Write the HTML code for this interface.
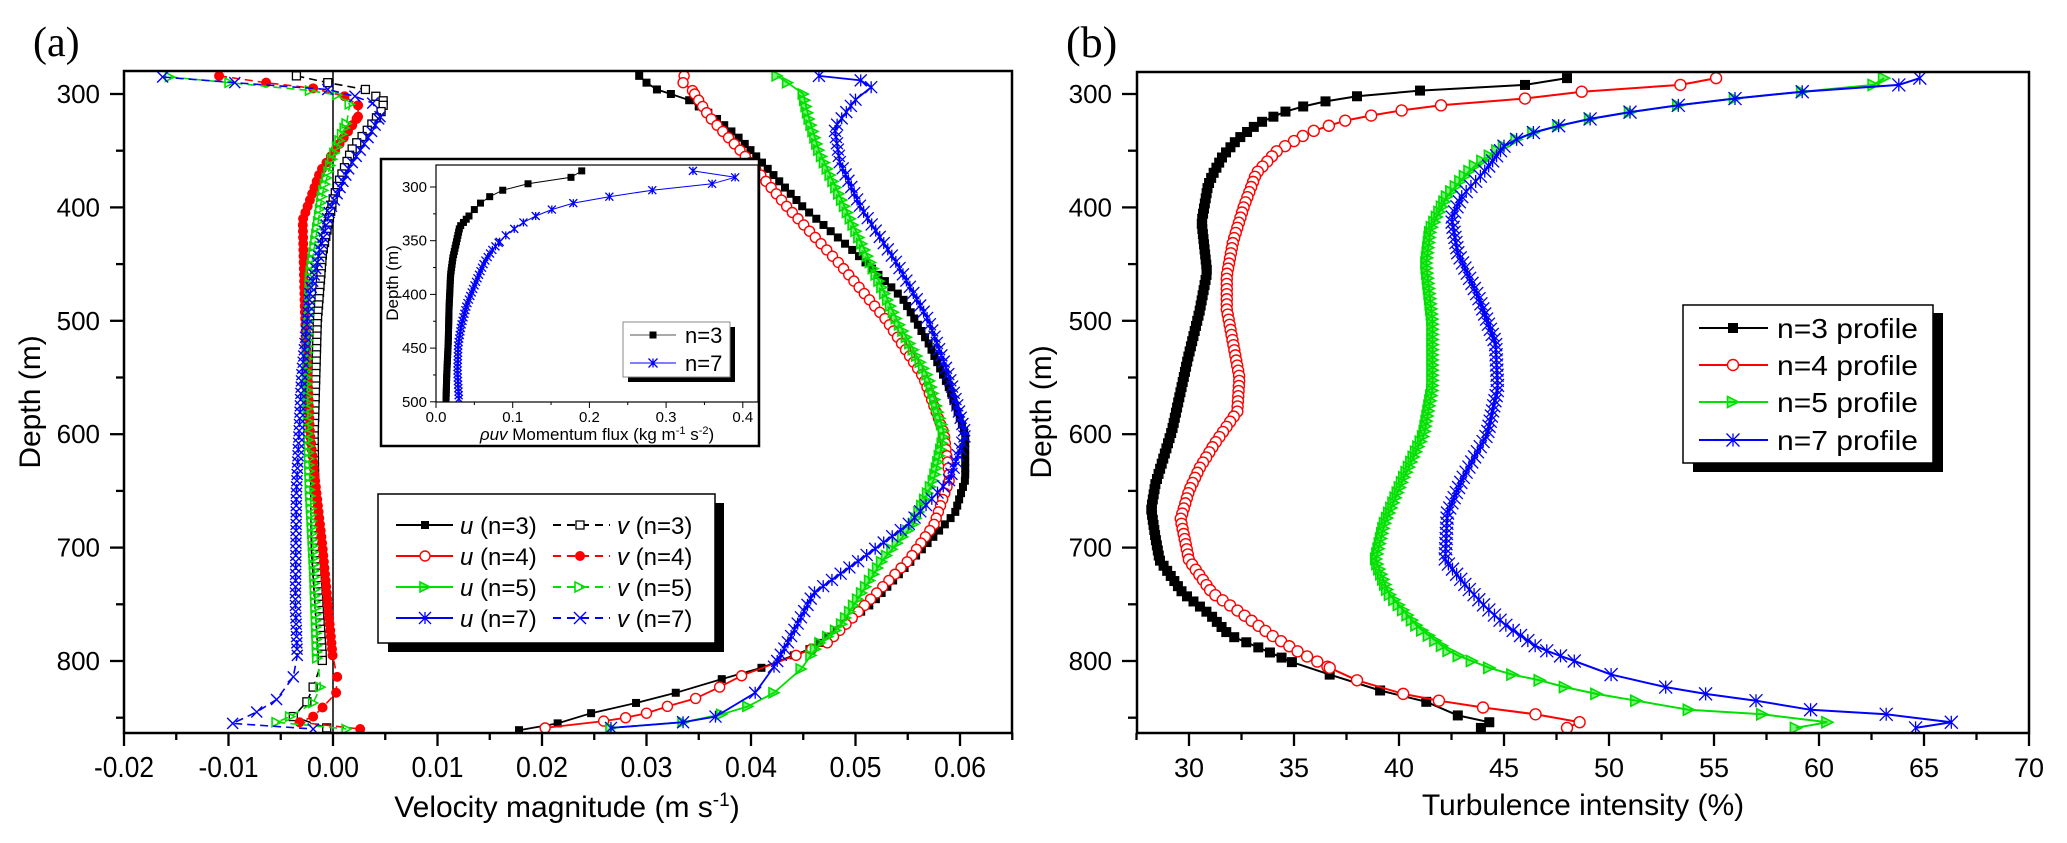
<!DOCTYPE html>
<html><head><meta charset="utf-8">
<style>
html,body{margin:0;padding:0;background:#fff;}
svg{display:block;font-family:"Liberation Sans",Arial,sans-serif;}
</style></head>
<body>
<svg id="s" width="2067" height="843" viewBox="0 0 2067 843" xmlns="http://www.w3.org/2000/svg">
<defs>
<clipPath id="ca"><rect x="124" y="71" width="888" height="662"/></clipPath>
<clipPath id="cb"><rect x="1137" y="72" width="892" height="661"/></clipPath>
<clipPath id="ci"><rect x="436" y="165" width="322" height="237"/></clipPath>
</defs>
<g id="root"></g>
</svg>
<script>
(function(){
var out=[];
function Y(d){return 94+(d-300)*1.134;}
function XA(v){return 333+v*10450;}
function XB(t){return 1189+(t-30)*21;}
function XI(f){return 436+f*767;}
function YI(d){return 187+(d-300)*1.074;}
var RED="#ff0000",GRN="#00e000",BLU="#0000ff",BLK="#000";
function interp(p,d){for(var i=0;i<p.length-1;i++){if(d>=p[i][0]&&d<=p[i+1][0]){var t=(d-p[i][0])/(p[i+1][0]-p[i][0]);return p[i][1]+t*(p[i+1][1]-p[i][1]);}}return p[p.length-1][1];}
function pts(p,a,b,step){var r=[];p.forEach(function(q){if(q[0]<a)r.push(q);});for(var d=a;d<=b;d+=step)r.push([d,interp(p,d)]);p.forEach(function(q){if(q[0]>b)r.push(q);});return r;}
function mk(type,x,y,s,c){var h=s/2;
 switch(type){
 case'sqF':return '<rect x="'+(x-h)+'" y="'+(y-h)+'" width="'+s+'" height="'+s+'" fill="'+c+'"/>';
 case'sqO':return '<rect x="'+(x-h)+'" y="'+(y-h)+'" width="'+s+'" height="'+s+'" fill="#fff" stroke="'+c+'" stroke-width="1.3"/>';
 case'ciO':return '<circle cx="'+x+'" cy="'+y+'" r="'+h+'" fill="#fff" stroke="'+c+'" stroke-width="1.4"/>';
 case'ciF':return '<circle cx="'+x+'" cy="'+y+'" r="'+h+'" fill="'+c+'"/>';
 case'tri':return '<polygon points="'+(x-h)+','+(y-h)+' '+(x+h)+','+y+' '+(x-h)+','+(y+h)+'" fill="none" stroke="'+c+'" stroke-width="1.6"/>';
 case'triF':return '<polygon points="'+(x-h)+','+(y-h)+' '+(x+h)+','+y+' '+(x-h)+','+(y+h)+'" fill="'+c+'" fill-opacity="0.5" stroke="'+c+'" stroke-width="1.6"/>';
 case'ast':return '<path d="M'+(x-h)+' '+(y-h)+'L'+(x+h)+' '+(y+h)+'M'+(x-h)+' '+(y+h)+'L'+(x+h)+' '+(y-h)+'M'+x+' '+(y-h)+'L'+x+' '+(y+h)+'" stroke="'+c+'" stroke-width="1.3" fill="none"/>';
 case'X':return '<path d="M'+(x-h)+' '+(y-h)+'L'+(x+h)+' '+(y+h)+'M'+(x-h)+' '+(y+h)+'L'+(x+h)+' '+(y-h)+'" stroke="'+c+'" stroke-width="1.4" fill="none"/>';
 }}
function series(P,fx,fy,col,type,size,dash,lw){
 var s='<polyline fill="none" stroke="'+col+'" stroke-width="'+(lw||2)+'"'+(dash?' stroke-dasharray="'+dash+'"':'')+' points="'+P.map(function(q){return fx(q[1]).toFixed(1)+','+fy(q[0]).toFixed(1);}).join(' ')+'"/>';
 P.forEach(function(q){s+=mk(type,fx(q[1]),fy(q[0]),size,col);});
 return s;}
function txt(x,y,t,sz,anchor,extra){return '<text x="'+x+'" y="'+y+'" font-size="'+sz+'" text-anchor="'+(anchor||'start')+'" '+(extra||'')+'>'+t+'</text>';}

/* ---------- Panel (a) ---------- */
var U3=[[284,0.0293],[290,0.030],[296,0.031],[305,0.034],[320,0.0365],[340,0.039],[370,0.042],[400,0.045],[440,0.050],[480,0.0545],[520,0.057],[560,0.059],[600,0.0605],[640,0.0605],[670,0.0595],[711,0.0554],[749,0.0516],[771,0.0485],[788,0.046],[795,0.0441],[806,0.041],[816,0.0372],[828,0.0328],[837,0.029],[846,0.0247],[855,0.0215],[861,0.0178]];
var U4=[[284,0.0336],[290,0.0335],[297,0.0344],[320,0.036],[350,0.039],[400,0.0435],[450,0.0485],[500,0.053],[550,0.0565],[600,0.0585],[640,0.059],[680,0.0575],[711,0.0551],[761,0.0498],[784,0.0473],[798,0.0435],[813,0.0391],[823,0.037],[833,0.0347],[840,0.032],[846,0.030],[850,0.028],[853,0.0259],[859,0.0203]];
var U5=[[284,0.0425],[290,0.0435],[300,0.045],[320,0.0455],[350,0.0465],[400,0.049],[450,0.0515],[500,0.054],[550,0.057],[600,0.0585],[640,0.0575],[680,0.0555],[711,0.0526],[770,0.0485],[784,0.0466],[807,0.0448],[828,0.0422],[840,0.0397],[847,0.0372],[854,0.0335],[859,0.0266]];
var U7=[[284,0.0465],[288,0.0505],[294,0.0515],[305,0.050],[330,0.048],[360,0.0485],[400,0.0505],[450,0.054],[500,0.057],[550,0.059],[600,0.0605],[640,0.059],[680,0.055],[711,0.0504],[740,0.046],[784,0.0435],[805,0.0422],[828,0.0404],[849,0.0366],[854,0.0335],[859,0.0266]];
var V3=[[284,-0.0035],[290,-0.0005],[296,0.0031],[302,0.0041],[306,0.0048],[313,0.0048],[333,0.0032],[347,0.0019],[374,0.0007],[393,0],[440,-0.001],[500,-0.0015],[600,-0.0018],[700,-0.0017],[799,-0.001],[823,-0.0019],[836,-0.0025],[849,-0.0038],[859,-0.0006]];
var V4=[[284,-0.0109],[290,-0.0064],[295,-0.0019],[302,0.0011],[310,0.0024],[320,0.0024],[347,0.0004],[368,-0.0012],[411,-0.0029],[490,-0.0027],[600,-0.0022],[700,-0.001],[799,0],[814,0.0004],[828,0.0003],[841,-0.001],[849,-0.0019],[854,-0.0032],[860,0.0026]];
var V5=[[285,-0.0156],[290,-0.0099],[297,-0.0022],[301,0.0004],[309,0.0016],[326,0.0013],[355,0],[387,-0.001],[461,-0.0022],[550,-0.0025],[650,-0.0022],[720,-0.0018],[799,-0.0015],[823,-0.0012],[837,-0.0019],[849,-0.0041],[854,-0.0054],[860,0.0013]];
var V7=[[285,-0.0163],[290,-0.0094],[296,-0.0005],[302,0.0021],[308,0.0038],[320,0.0045],[341,0.0032],[364,0.0016],[402,-0.0003],[475,-0.0022],[550,-0.003],[650,-0.0035],[750,-0.0036],[799,-0.0034],[814,-0.0038],[834,-0.0054],[845,-0.0073],[855,-0.0096],[860,-0.0019]];

out.push('<g clip-path="url(#ca)">');
out.push('<line x1="333" y1="71" x2="333" y2="733" stroke="#000" stroke-width="1.5"/>');
out.push(series(pts(V3,310,800,5.5),XA,Y,BLK,'sqO',8,'8,5',1.6));
out.push(series(pts(V4,322,800,5.5),XA,Y,RED,'ciF',10,'8,5',1.6));
out.push(series(pts(V5,330,800,5.5),XA,Y,GRN,'tri',9,'8,5',1.6));
out.push(series(pts(V7,322,800,5.5),XA,Y,BLU,'X',11,'8,5',1.6));
out.push(series(pts(U3,300,800,5.5),XA,Y,BLK,'sqF',8,null,1.8));
out.push(series(pts(U4,300,800,5.5),XA,Y,RED,'ciO',10,null,1.8));
out.push(series(pts(U5,300,800,5.5),XA,Y,GRN,'triF',10,null,1.8));
out.push(series(pts(U7,305,800,5.5),XA,Y,BLU,'ast',12,null,1.8));
out.push('</g>');
out.push('<rect x="124" y="71" width="888" height="662" fill="none" stroke="#000" stroke-width="2.5"/>');
// y ticks (a)
for(var d=300;d<=850;d+=50){var yy=Y(d);var maj=(d%100==0);
 out.push('<line x1="'+(maj?110:116)+'" y1="'+yy+'" x2="124" y2="'+yy+'" stroke="#000" stroke-width="2.3"/>');
 if(maj)out.push(txt(100,yy+9,d,26,'end'));}
// x ticks (a)
for(var i=-4;i<=13;i++){var v=i*0.005;var xx=XA(v);var maj=(i%2==0);
 out.push('<line x1="'+xx+'" y1="733" x2="'+xx+'" y2="'+(maj?746:740)+'" stroke="#000" stroke-width="2.3"/>');
 if(maj&&i<=12){var lab=(v<0?'-':'')+Math.abs(v).toFixed(2);out.push(txt(xx,777,lab,29,'middle','textLength="'+(v<0?60:52)+'" lengthAdjust="spacingAndGlyphs"'));}}
out.push(txt(567,817,'Velocity magnitude (m s<tspan dy="-11" font-size="19">-1</tspan><tspan dy="11">)</tspan>',30,'middle'));
out.push('<text transform="translate(40,402) rotate(-90)" font-size="30" text-anchor="middle">Depth (m)</text>');
out.push('<text x="33" y="56" font-size="42" font-family="Liberation Serif,serif">(a)</text>');

// legend (a)
out.push('<rect x="388" y="503" width="336" height="149" fill="#000"/>');
out.push('<rect x="378" y="494" width="337" height="149" fill="#fff" stroke="#000" stroke-width="1.5"/>');
var rows=[[525,BLK,'sqF','sqO',8,8,'3'],[556,RED,'ciO','ciF',10,10,'4'],[587,GRN,'triF','tri',10,10,'5'],[618,BLU,'ast','X',12,12,'7']];
rows.forEach(function(r){
 out.push('<line x1="396" y1="'+r[0]+'" x2="453" y2="'+r[0]+'" stroke="'+r[1]+'" stroke-width="2"/>');
 out.push(mk(r[2],425,r[0],r[4],r[1]));
 out.push(txt(460,r[0]+9,'<tspan font-style="italic">u</tspan> (n='+r[6]+')',24));
 out.push('<line x1="553" y1="'+r[0]+'" x2="610" y2="'+r[0]+'" stroke="'+r[1]+'" stroke-width="2" stroke-dasharray="8,6"/>');
 out.push(mk(r[3],580,r[0],r[5],r[1]));
 out.push(txt(617,r[0]+9,'<tspan font-style="italic">v</tspan> (n='+r[6]+')',24));
});

// inset
out.push('<rect x="381" y="159" width="378" height="287" fill="#fff" stroke="#000" stroke-width="2.5"/>');
var I3=[[285,0.19],[291,0.176],[297,0.12],[303,0.087],[309,0.070],[315,0.058],[321,0.05],[327,0.043],[337,0.031],[350,0.027],[366,0.022],[382,0.019],[413,0.017],[444,0.016],[475,0.014],[500,0.013]];
var I7=[[285,0.335],[291,0.39],[297,0.36],[303,0.282],[309,0.226],[315,0.179],[321,0.151],[327,0.130],[333,0.114],[339,0.102],[345,0.091],[351,0.083],[358,0.074],[370,0.063],[392,0.050],[410,0.040],[429,0.033],[447,0.029],[472,0.028],[500,0.030]];
out.push('<g clip-path="url(#ci)">');
out.push(series(pts(I3,330,500,3),XI,YI,BLK,'sqF',7,null,1));
out.push(series(pts(I7,352,500,3.3),XI,YI,BLU,'ast',8,null,1));
out.push('</g>');
out.push('<rect x="436" y="165" width="322" height="237" fill="none" stroke="#000" stroke-width="1.2"/>');
for(var d=300;d<=500;d+=25){var yy=YI(d);var maj=(d%50==0);
 out.push('<line x1="'+(maj?430:433)+'" y1="'+yy+'" x2="436" y2="'+yy+'" stroke="#000" stroke-width="1"/>');
 if(maj)out.push(txt(427,yy+5,d,15,'end'));}
for(var k=0;k<=8;k++){var xx=XI(k*0.05);var maj=(k%2==0);
 out.push('<line x1="'+xx+'" y1="402" x2="'+xx+'" y2="'+(maj?408:405)+'" stroke="#000" stroke-width="1"/>');
 if(maj)out.push(txt(xx,422,(k*0.05).toFixed(1),15,'middle'));}
out.push(txt(597,440,'<tspan font-style="italic">ρuv</tspan> Momentum flux (kg m<tspan dy="-6" font-size="11">-1</tspan><tspan dy="6"> s</tspan><tspan dy="-6" font-size="11">-2</tspan><tspan dy="6">)</tspan>',17,'middle'));
out.push('<text transform="translate(398,283) rotate(-90)" font-size="17" text-anchor="middle">Depth (m)</text>');
out.push('<rect x="628" y="327" width="107" height="55" fill="#000"/>');
out.push('<rect x="623" y="322" width="107" height="55" fill="#fff" stroke="#888" stroke-width="1"/>');
out.push('<line x1="630" y1="335" x2="676" y2="335" stroke="#777" stroke-width="1.2"/>'+mk('sqF',653,335,7,BLK));
out.push('<line x1="630" y1="363" x2="676" y2="363" stroke="'+BLU+'" stroke-width="1"/>'+mk('ast',653,363,9,BLU));
out.push(txt(685,343,'n=3',22));
out.push(txt(685,371,'n=7',22));

/* ---------- Panel (b) ---------- */
var B3=[[286,48],[292,46],[297,41],[302,38],[308,36],[316,34.5],[326,33.3],[340,32.3],[355,31.6],[372,31.1],[381,30.9],[413,30.6],[457,30.86],[492,30.5],[533,29.95],[596,29.2],[644,28.4],[666,28.2],[691,28.4],[711,28.6],[740,29.7],[759,31],[777,31.9],[788,33.3],[801,34.9],[812,36.7],[826,39.1],[836,41.3],[848,42.8],[854,44.3],[859,43.9]];
var B4=[[286,55.1],[292,53.4],[298,48.7],[304,46],[310,42],[316,39.5],[324,37.3],[334,35.7],[350,34.2],[370,33.2],[400,32.6],[430,32.1],[460,31.8],[490,31.8],[520,32.1],[550,32.4],[580,32.3],[609,31.2],[630,30.5],[650,30],[675,29.6],[711,30],[740,31.1],[758,32.5],[777,33.9],[793,35.3],[806,36.7],[817,38],[829,40.2],[835,41.9],[841,44],[847,46.5],[854,48.6],[859,48]];
var B5=[[286,63.1],[292,62.6],[298,59.2],[304,56],[310,53.3],[316,51],[322,49.1],[328,47.6],[334,46.4],[340,45.6],[346,45],[365,43.5],[390,42.3],[420,41.5],[450,41.3],[500,41.6],[560,41.6],[600,41.2],[640,40.2],[680,39.3],[711,38.9],[740,39.5],[770,40.9],[793,42.5],[806,44.3],[812,45.4],[817,46.7],[823,47.9],[829,49.4],[835,51.3],[843,53.8],[847,57.3],[854,60.4],[859,58.9]];
var B7=[[286,64.8],[292,63.8],[298,59.2],[304,56],[310,53.3],[316,51],[322,49.1],[328,47.6],[334,46.4],[340,45.6],[346,45],[370,44],[390,43],[410,42.5],[440,42.8],[480,43.8],[520,44.6],[560,44.7],[600,44.2],[640,43],[670,42.3],[711,42.2],[734,43.2],[752,44.1],[768,45.05],[788,46.6],[799,48.2],[812,50.1],[823,52.7],[829,54.6],[835,57],[843,59.6],[847,63.2],[854,66.3],[859,64.6]];
out.push('<g clip-path="url(#cb)">');
out.push(series(pts(B3,302,800,4.5),XB,Y,BLK,'sqF',10,null,2));
out.push(series(pts(B4,310,805,4.5),XB,Y,RED,'ciO',11,null,2));
out.push(series(pts(B5,350,800,4.5),XB,Y,GRN,'triF',11,null,2));
out.push(series(pts(B7,350,800,4.5),XB,Y,BLU,'ast',13,null,2));
out.push('</g>');
out.push('<rect x="1137" y="72" width="892" height="661" fill="none" stroke="#000" stroke-width="2.5"/>');
for(var d=300;d<=850;d+=50){var yy=Y(d);var maj=(d%100==0);
 out.push('<line x1="'+(maj?1122:1128)+'" y1="'+yy+'" x2="1137" y2="'+yy+'" stroke="#000" stroke-width="2.3"/>');
 if(maj)out.push(txt(1112,yy+9,d,26,'end'));}
for(var t=27.5;t<=70.01;t+=2.5){var xx=XB(t);var maj=(Math.abs(t%5)<0.01);
 out.push('<line x1="'+xx+'" y1="733" x2="'+xx+'" y2="'+(maj?746:740)+'" stroke="#000" stroke-width="2.3"/>');
 if(maj)out.push(txt(xx,777,t,27,'middle'));}
out.push(txt(1583,815,'Turbulence intensity (%)',30,'middle'));
out.push('<text transform="translate(1051,412) rotate(-90)" font-size="30" text-anchor="middle">Depth (m)</text>');
out.push('<text x="1066" y="57" font-size="44" font-family="Liberation Serif,serif">(b)</text>');
// legend (b)
out.push('<rect x="1693" y="313" width="250" height="159" fill="#000"/>');
out.push('<rect x="1683" y="305" width="250" height="158" fill="#fff" stroke="#000" stroke-width="1.5"/>');
var lb=[[328,BLK,'sqF',10,'3'],[365,RED,'ciO',11,'4'],[402,GRN,'triF',11,'5'],[440,BLU,'ast',13,'7']];
lb.forEach(function(r){
 out.push('<line x1="1699" y1="'+r[0]+'" x2="1768" y2="'+r[0]+'" stroke="'+r[1]+'" stroke-width="2"/>');
 out.push(mk(r[2],1733,r[0],r[3],r[1]));
 out.push(txt(1777,r[0]+10,'n='+r[4]+' profile',28,'start','textLength="141" lengthAdjust="spacingAndGlyphs"'));
});

document.getElementById('root').innerHTML=out.join('');
})();
</script>
</body></html>
